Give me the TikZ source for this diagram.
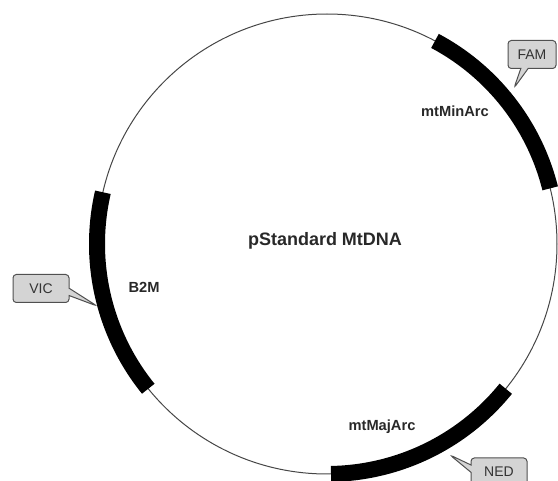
\documentclass[tikz,border=0pt]{standalone}
\usepackage{fontspec}
\setmainfont{Liberation Sans}
\usetikzlibrary{shapes.callouts}

\tikzset{
  locusarc/.style={line width=12pt, black},
  dyebox/.style={rectangle callout, draw={rgb, 255:red, 80; green, 80; blue, 80}, fill={rgb, 255:red, 212; green, 212; blue, 212}, line width=0.75pt, rounded corners=2.5pt, minimum width=42pt, minimum height=21pt, inner sep=0pt, callout pointer width=5.5pt, font=\fontsize{10.5}{12}\selectfont, text={rgb, 255:red, 51; green, 51; blue, 51}},
  locuslabel/.style={font=\bfseries\fontsize{11}{13}\selectfont, text={rgb, 255:red, 40; green, 40; blue, 40}}
}

\begin{document}
\begin{tikzpicture}[x=0.75pt,y=0.75pt,yscale=-1,xscale=1]
\useasboundingbox (0,0) rectangle (558,481);

%Backbone circle
\coordinate (cen) at (327,244);
\draw [draw={rgb, 255:red, 70; green, 70; blue, 70}, line width=0.75pt] (cen) circle [radius=230];

%Marked regions
\draw [locusarc] (cen) ++(-62:230) arc [start angle=-62, end angle=-14, radius=230];
\draw [locusarc] (cen) ++(141:230) arc [start angle=141, end angle=193, radius=230];
\draw [locusarc] (cen) ++(39:230) arc [start angle=39, end angle=89, radius=230];

% Text Node
\node [font=\bfseries\fontsize{13.5}{16}\selectfont, text={rgb, 255:red, 40; green, 40; blue, 40}] (plasmid) at (325,241) {pStandard MtDNA};
% Text Node
\node [locuslabel] (minarc) at (455,111) {mtMinArc};
% Text Node
\node [locuslabel] (b2m) at (144,287) {B2M};
% Text Node
\node [locuslabel] (majarc) at (382,427) {mtMajArc};

%Dye callouts
\coordinate (famtip) at (514,88);
\coordinate (victip) at (97,306);
\coordinate (nedtip) at (450,455);
\node [dyebox, minimum width=36pt, callout absolute pointer={(famtip)}] (fam) at (532,54.5) {FAM};
\node [dyebox, callout absolute pointer={(victip)}] (vic) at (41,288.5) {VIC};
\node [dyebox, callout absolute pointer={(nedtip)}] (ned) at (499,472) {NED};

\end{tikzpicture}
\end{document}
